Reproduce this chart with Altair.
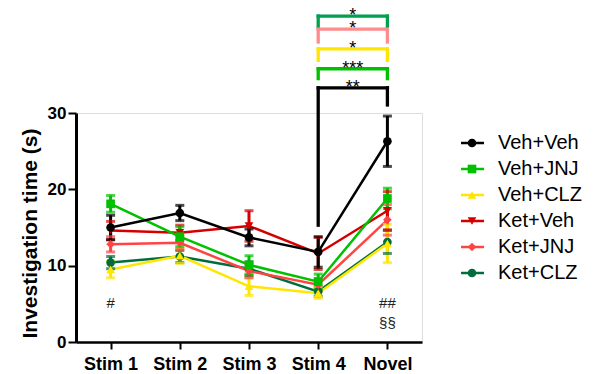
import json
import altair as alt
import pandas as pd

# ---- data ----
categories = ["Stim 1", "Stim 2", "Stim 3", "Stim 4", "Novel"]
series = ["Veh+Veh", "Veh+JNJ", "Veh+CLZ", "Ket+Veh", "Ket+JNJ", "Ket+CLZ"]
colors = ["#000000", "#00C000", "#FFE600", "#D40000", "#FF4444", "#006E3C"]
shapes = ["circle", "square", "triangle-up", "triangle-down", "diamond", "circle"]
sizes = [75, 75, 90, 90, 45, 130]

means = {
    "Veh+Veh": [15.0, 16.9, 13.7, 11.8, 26.3],
    "Veh+JNJ": [18.1, 13.8, 10.1, 7.9, 18.8],
    "Veh+CLZ": [9.5, 11.3, 7.3, 6.4, 12.9],
    "Ket+Veh": [14.6, 14.3, 15.2, 11.6, 17.2],
    "Ket+JNJ": [12.8, 13.0, 9.3, 7.5, 16.0],
    "Ket+CLZ": [10.4, 11.2, 9.6, 6.6, 13.1],
}
sems = {
    "Veh+Veh": [1.6, 1.0, 1.1, 2.0, 3.3],
    "Veh+JNJ": [1.1, 1.3, 1.2, 1.0, 1.35],
    "Veh+CLZ": [1.1, 1.0, 1.2, 0.7, 2.5],
    "Ket+Veh": [1.2, 1.0, 2.0, 2.1, 2.5],
    "Ket+JNJ": [1.0, 0.9, 0.9, 0.8, 2.0],
    "Ket+CLZ": [0.8, 0.8, 0.9, 0.6, 1.5],
}

# significance brackets (Stim 4 vs Novel)
bracket_top = [42.7, 41.0, 38.4, 35.8, 33.3]
bracket_left_bottom = [41.3, 39.3, 36.9, 34.5, 15.3]
bracket_right_bottom = [41.3, 39.3, 36.9, 34.5, 31.05]
bracket_colors = ["#00A04E", "#FF8C8C", "#FFE600", "#00C000", "#000000"]
bracket_labels = ["*", "*", "*", "***", "**"]

# annotations below points
annot_cat = [0, 4, 4]
annot_y = [5.1, 5.1, 2.5]
annot_text = ["#", "##", "§§"]

FONT = "Liberation Sans"

# ---- tables ----
rows = []
for s in reversed(series):
    for i, c in enumerate(categories):
        m = means[s][i]
        e = sems[s][i]
        rows.append({"series": s, "idx": i, "mean": m, "lo": m - e, "hi": m + e})
df = pd.DataFrame(rows)

br = pd.DataFrame({
    "top": bracket_top, "lb": bracket_left_bottom, "rb": bracket_right_bottom,
    "col": bracket_colors, "lab": bracket_labels,
    "x0": [3] * len(bracket_top), "x1": [4] * len(bracket_top),
})
ann = pd.DataFrame({"idx": annot_cat, "y": annot_y, "t": annot_text})
leg = pd.DataFrame({"series": series})

xscale = alt.Scale(domain=[-0.5, 4.5], nice=False, zero=False)
yscale = alt.Scale(domain=[0, 30], nice=False)
cscale = alt.Scale(domain=series, range=colors)
shscale = alt.Scale(domain=series, range=shapes)
szscale = alt.Scale(domain=series, range=sizes)

label_expr = json.dumps(categories) + "[datum.value]"

X = alt.X("idx:Q", scale=xscale, title=None,
          axis=alt.Axis(values=[0, 1, 2, 3, 4], labelExpr=label_expr, grid=False,
                        domainColor="black", domainWidth=2.5, tickColor="black",
                        tickWidth=2, tickSize=7, labelFont=FONT, labelFontSize=18,
                        labelFontWeight="bold", labelColor="black",
                        labelBaseline="alphabetic", labelPadding=20))
Y = alt.Y("mean:Q", scale=yscale,
          axis=alt.Axis(values=[0, 10, 20, 30], grid=False, domainColor="black",
                        domainWidth=3, tickColor="black", tickWidth=2, tickSize=8,
                        labelFont=FONT, labelFontSize=17, labelFontWeight="bold",
                        labelColor="black", labelPadding=2,
                        title="Investigation time (s)", titleFont=FONT,
                        titleFontSize=21, titleFontWeight="bold", titleColor="black",
                        titleX=-40, titleY=120, titleAngle=-90,
                        titleAlign="center", titleBaseline="alphabetic"))
C = alt.Color("series:N", scale=cscale, legend=None)

base = alt.Chart(df)
lines = base.mark_line(strokeWidth=2.5).encode(x=X, y=Y, color=C, detail="series:N")
err = base.mark_rule(strokeWidth=3).encode(x="idx:Q", y="lo:Q", y2="hi:Q", color=C)
cap_hi = base.mark_tick(orient="horizontal", size=9, thickness=3).encode(
    x="idx:Q", y="hi:Q", color=C)
cap_lo = base.mark_tick(orient="horizontal", size=9, thickness=3).encode(
    x="idx:Q", y="lo:Q", color=C)
pts = base.mark_point(filled=True, opacity=1).encode(
    x="idx:Q", y="mean:Q", color=C,
    shape=alt.Shape("series:N", scale=shscale, legend=None),
    size=alt.Size("series:N", scale=szscale, legend=None))

bb = alt.Chart(br)
S = alt.Stroke("col:N", scale=None)
b_h = bb.mark_rule(strokeWidth=3.3, strokeCap="square").encode(
    x="x0:Q", x2="x1:Q", y="top:Q", stroke=S)
b_l = bb.mark_rule(strokeWidth=3.3, strokeCap="square").encode(
    x="x0:Q", y="top:Q", y2="lb:Q", stroke=S)
b_r = bb.mark_rule(strokeWidth=3.3, strokeCap="square").encode(
    x="x1:Q", y="top:Q", y2="rb:Q", stroke=S)
b_t = bb.transform_calculate(xm="(datum.x0 + datum.x1) / 2").mark_text(
    font=FONT, fontSize=18, color="black", baseline="alphabetic", dy=5).encode(
    x="xm:Q", y="top:Q", text="lab:N")

annot = alt.Chart(ann).mark_text(font=FONT, fontSize=15, color="#222222",
                                 baseline="middle").encode(
    x="idx:Q", y="y:Q", text="t:N")

LY = alt.Y("series:N", scale=alt.Scale(type="point", domain=series, range=[30, 160],
                                       padding=0), axis=None)
lchart = alt.Chart(leg)
leg_line = lchart.mark_rule(strokeWidth=2.5).encode(
    x=alt.value(385), x2=alt.value(408), y=LY, color=C)
leg_pt = lchart.mark_point(filled=True, opacity=1).encode(
    x=alt.value(396), y=LY, color=C,
    shape=alt.Shape("series:N", scale=shscale, legend=None),
    size=alt.Size("series:N", scale=szscale, legend=None))
leg_txt = lchart.mark_text(font=FONT, fontSize=20, align="left", baseline="middle",
                           color="black").encode(
    x=alt.value(422), y=LY, text="series:N")

main = alt.layer(lines, err, cap_hi, cap_lo, pts, b_h, b_l, b_r, b_t, annot)
legend = alt.layer(leg_line, leg_pt, leg_txt)

chart = alt.layer(main, legend).resolve_scale(y="independent").properties(
    width=346, height=229,
    autosize=alt.AutoSizeParams(type="none"),
    padding={"left": 68, "top": 105, "right": 172, "bottom": 32},
).configure_view(stroke=None).configure(background="white")

chart.save("out.html", embed_options={"renderer": "svg", "actions": False})
